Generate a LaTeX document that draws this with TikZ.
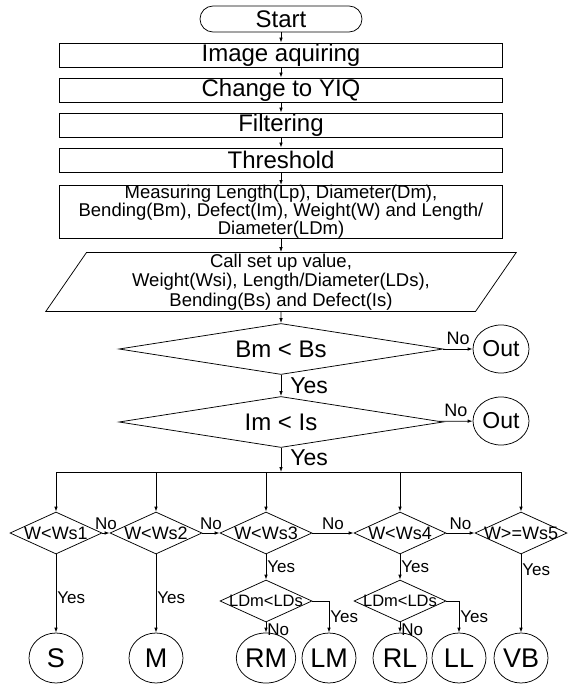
\documentclass[tikz,border=0pt]{standalone}
\usepackage{fontspec}
\setmainfont{Liberation Sans}
\usetikzlibrary{arrows.meta,shapes.geometric}
\newcommand{\fsz}[1]{\fontsize{#1}{#1}\selectfont}
\tikzset{
  term/.style={draw,rounded corners=13pt,minimum width=162pt,minimum height=26pt,inner sep=0pt,font=\fsz{24}},
  bx/.style={draw,minimum width=443pt,minimum height=24pt,inner sep=0pt,font=\fsz{24}},
  io/.style={draw,trapezium,trapezium left angle=61,trapezium right angle=119,trapezium stretches=true,minimum width=473pt,minimum height=59pt,inner sep=0pt,align=center,font=\fontsize{18.5}{19.5}\selectfont},
  dec/.style={draw,diamond,aspect=6.35,minimum width=324pt,minimum height=51pt,inner sep=0pt,font=\fsz{24}},
  sdec/.style={draw,diamond,aspect=2.2,minimum width=92pt,minimum height=42pt,inner sep=-3pt,font=\fsz{18}},
  endc/.style={draw,ellipse,minimum width=54pt,minimum height=50pt,inner sep=0pt,font=\fsz{27}},
  ar/.style={-{Latex[length=5pt,width=3.5pt]}},
  yesb/.style={font=\fsz{23},inner sep=1pt},
  lbl/.style={font=\fsz{17},inner sep=1pt}
}
\begin{document}
\begin{tikzpicture}[x=1pt,y=-1pt,line width=0.75pt]
\useasboundingbox (0,0) rectangle (567,684);
% main column
\node[term] (start) at (281,19) {Start};
\node[bx] (ia) at (281,55) {Image aquiring};
\node[bx] (yiq) at (281,90) {Change to YIQ};
\node[bx] (filt) at (281,125) {Filtering};
\node[bx] (thr) at (281,160) {Threshold};
\node[bx,minimum height=52pt,align=center,font=\fontsize{18.5}{18}\selectfont] (meas) at (281,212) {Measuring Length(Lp), Diameter(Dm),\\Bending(Bm), Defect(Im), Weight(W) and Length/\\Diameter(LDm)};
\node[io] (setv) at (281,282) {Call set up value,\\Weight(Wsi), Length/Diameter(LDs),\\Bending(Bs) and Defect(Is)};
\node[dec] (bm) at (281,349) {Bm < Bs};
\node[dec] (im) at (281,422) {Im < Is};
\node[endc,minimum width=56pt,minimum height=48pt,font=\fsz{23}] (out1) at (501,349) {Out};
\node[endc,minimum width=56pt,minimum height=48pt,font=\fsz{23}] (out2) at (501,421) {Out};
\coordinate (bus) at (281,472);
% weight classes
\foreach \n/\xx/\t in {w1/56/W<Ws1,w2/156/W<Ws2,w3/266/W<Ws3,w4/400/W<Ws4,w5/521/W>=Ws5}{\node[sdec] (\n) at (\xx,533) {\t};}
\node[sdec,font=\fsz{16.5}] (ld1) at (266,601) {LDm<LDs};
\node[sdec,font=\fsz{16.5}] (ld2) at (400,601) {LDm<LDs};
\foreach \n/\xx/\t in {s/56/S,m/156/M,rm/266/RM,lm/329/LM,rl/400/RL,ll/459/LL,vb/521/VB}{\node[endc] (\n) at (\xx,658) {\t};}
% connectors
\foreach \a/\b in {start/ia,ia/yiq,yiq/filt,filt/thr,thr/meas,meas/setv,setv/bm}{\draw[ar] (\a) -- (\b);}
\draw[ar] (bm) -- node[yesb,right=8pt] {Yes} (im);
\draw[ar] (im) -- node[yesb,right=8pt,pos=0.4] {Yes} (bus);
\draw[ar] (bm) -- node[lbl,font=\fsz{18},above=3pt] {No} (out1);
\draw[ar] (im) -- node[lbl,font=\fsz{18},above=3pt] {No} (out2);
\draw (w1.north |- bus) -- (w5.north |- bus);
\foreach \n in {w1,w2,w3,w4,w5}{\draw[ar] (\n.north |- bus) -- (\n.north);}
\foreach \a/\b in {w1/w2,w2/w3,w3/w4,w4/w5}{\draw[ar] (\a) -- node[lbl,above=2pt] {No} (\b);}
\draw[ar] (w1) -- node[lbl,right,pos=0.56] {Yes} (s);
\draw[ar] (w2) -- node[lbl,right,pos=0.56] {Yes} (m);
\draw[ar] (w3) -- node[lbl,right] {Yes} (ld1);
\draw[ar] (w4) -- node[lbl,right] {Yes} (ld2);
\draw[ar] (w5) -- node[lbl,right,pos=0.2] {Yes} (vb);
\draw[ar] (ld1) -- node[lbl,right,pos=0.7] {No} (rm);
\draw[ar] (ld2) -- node[lbl,right,pos=0.7] {No} (rl);
\draw[ar] (ld1.east) -| node[lbl,right,pos=0.75] {Yes} (lm);
\draw[ar] (ld2.east) -| node[lbl,right,pos=0.75] {Yes} (ll);
\end{tikzpicture}
\end{document}
